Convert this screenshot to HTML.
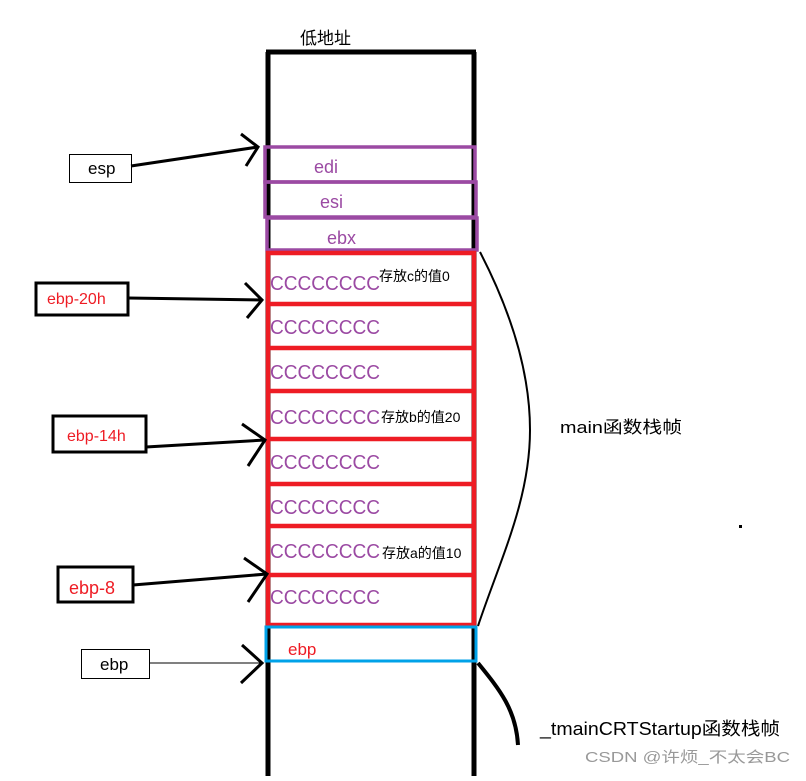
<!DOCTYPE html>
<html><head><meta charset="utf-8"><style>
html,body{margin:0;padding:0;background:#fff;}
svg text{font-family:"Liberation Sans","Noto Sans CJK SC",sans-serif;}
</style></head><body>
<svg width="806" height="776" viewBox="0 0 806 776" xmlns="http://www.w3.org/2000/svg">
<rect width="806" height="776" fill="#fff"/>
<text x="300" y="44" font-size="17" fill="#000">低地址</text>
<line x1="268" y1="52" x2="268" y2="776" stroke="#000" stroke-width="5"/>
<line x1="474" y1="52" x2="474" y2="776" stroke="#000" stroke-width="5"/>
<line x1="266" y1="52" x2="476" y2="52" stroke="#000" stroke-width="5"/>
<g fill="none" stroke="#9b4aa3" stroke-width="3.5">
<rect x="265" y="147" width="210" height="35"/>
<rect x="265" y="182" width="211" height="35"/>
<rect x="267" y="218" width="210" height="32"/>
</g>
<g font-size="18" fill="#9b4aa3">
<text x="314" y="173">edi</text>
<text x="320" y="208">esi</text>
<text x="327" y="244">ebx</text>
</g>
<g fill="none" stroke="#ee1c24" stroke-width="4.5">
<rect x="268" y="253" width="206" height="372"/>
<line x1="268" y1="304" x2="474" y2="304"/>
<line x1="268" y1="348" x2="474" y2="348"/>
<line x1="268" y1="391" x2="474" y2="391"/>
<line x1="268" y1="439" x2="474" y2="439"/>
<line x1="268" y1="484" x2="474" y2="484"/>
<line x1="268" y1="526" x2="474" y2="526"/>
<line x1="268" y1="575" x2="474" y2="575"/>
</g>
<g font-size="20" fill="#9b4aa3">
<text x="270" y="290" textLength="110" lengthAdjust="spacingAndGlyphs">CCCCCCCC</text>
<text x="270" y="334" textLength="110" lengthAdjust="spacingAndGlyphs">CCCCCCCC</text>
<text x="270" y="379" textLength="110" lengthAdjust="spacingAndGlyphs">CCCCCCCC</text>
<text x="270" y="424" textLength="110" lengthAdjust="spacingAndGlyphs">CCCCCCCC</text>
<text x="270" y="469" textLength="110" lengthAdjust="spacingAndGlyphs">CCCCCCCC</text>
<text x="270" y="514" textLength="110" lengthAdjust="spacingAndGlyphs">CCCCCCCC</text>
<text x="270" y="558" textLength="110" lengthAdjust="spacingAndGlyphs">CCCCCCCC</text>
<text x="270" y="604" textLength="110" lengthAdjust="spacingAndGlyphs">CCCCCCCC</text>
</g>
<g font-size="14" fill="#000">
<text x="379" y="281">存放c的值0</text>
<text x="381" y="422">存放b的值20</text>
<text x="382" y="558">存放a的值10</text>
</g>
<rect x="266" y="627" width="210" height="34" fill="none" stroke="#00a2e8" stroke-width="3"/>
<text x="288" y="655" font-size="17" fill="#ee1c24">ebp</text>
<rect x="69.5" y="154.5" width="62" height="28" fill="#fff" stroke="#000" stroke-width="1"/>
<text x="88" y="174" font-size="17">esp</text>
<rect x="36" y="283" width="92" height="32" fill="#fff" stroke="#000" stroke-width="3"/>
<text x="47" y="304" font-size="16" fill="#ee1c24">ebp-20h</text>
<rect x="53" y="416" width="93" height="36" fill="#fff" stroke="#000" stroke-width="3"/>
<text x="67" y="441" font-size="16" fill="#ee1c24">ebp-14h</text>
<rect x="58" y="567" width="75" height="35" fill="#fff" stroke="#000" stroke-width="3"/>
<text x="69" y="594" font-size="18" fill="#ee1c24">ebp-8</text>
<rect x="81.5" y="649.5" width="68" height="29" fill="#fff" stroke="#000" stroke-width="1"/>
<text x="100" y="670" font-size="17">ebp</text>
<g stroke="#000" stroke-width="3" fill="none">
<line x1="131" y1="166" x2="258" y2="147"/>
<polyline points="241,134 258,147 246,166"/>
<line x1="128" y1="298" x2="262" y2="300"/>
<polyline points="245,283 262,300 247,318"/>
<line x1="146" y1="447" x2="265" y2="440"/>
<polyline points="242,424 265,440 248,466"/>
<line x1="133" y1="585" x2="267" y2="574"/>
<polyline points="244,558 267,574 248,602"/>
<polyline points="242,645 262,663 241,683"/>
</g>
<line x1="149" y1="663" x2="262" y2="663" stroke="#000" stroke-width="1"/>
<path d="M480,252 C510,310 530,370 530,430 C530,500 500,560 478,626" stroke="#000" stroke-width="2" fill="none"/>
<path d="M478,663 C500,690 516,710 518,745" stroke="#000" stroke-width="4" fill="none"/>
<text x="560" y="433" font-size="17" textLength="122" lengthAdjust="spacingAndGlyphs">main函数栈帧</text>
<text x="540" y="735" font-size="18" textLength="240" lengthAdjust="spacingAndGlyphs">_tmainCRTStartup函数栈帧</text>
<rect x="739" y="525" width="3" height="3" fill="#000"/>
<text x="585" y="762" font-size="15" fill="#999" textLength="205" lengthAdjust="spacingAndGlyphs">CSDN @许烦_不太会BC</text>
</svg>
</body></html>
